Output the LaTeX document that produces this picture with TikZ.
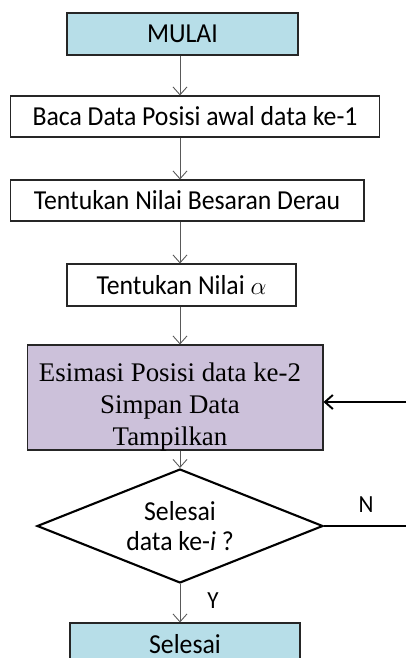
\documentclass[tikz,border=0pt]{standalone}
\usepackage{fontspec}
\setmainfont{Carlito}[FakeStretch=0.94]
\newfontfamily\timesfont{Liberation Serif}
\usetikzlibrary{shapes.geometric, arrows.meta}

\definecolor{startblue}{HTML}{B7DEE8}
\definecolor{procpurple}{HTML}{CCC1DA}

\begin{document}
\begin{tikzpicture}[x=0.02cm, y=-0.02cm,
    every node/.style={draw=black!85, line width=0.6pt, inner sep=0pt, font=\fontsize{15.6}{18.5}\selectfont},
    flow/.style={draw=black!65, line width=0.5pt, -{Straight Barb[length=4.5pt, width=8pt]}}]
    \clip (0, 0) rectangle (406, 658);

    \node[fill=startblue, minimum width=4.62cm, minimum height=0.84cm] (mulai) at (182.5, 34) {MULAI};
    \node[minimum width=7.4cm, minimum height=0.82cm] (baca) at (195, 116.5) {Baca Data Posisi awal data ke-1};
    \node[minimum width=7.08cm, minimum height=0.82cm] (derau) at (187, 200.5) {Tentukan Nilai Besaran Derau};
    \node[minimum width=4.58cm, minimum height=0.84cm] (alfa) at (181.5, 285) {Tentukan Nilai $\alpha$};
    \node[fill=procpurple, minimum width=5.92cm, minimum height=2.1cm] (estimasi) at (175, 397.5) {};
    \node[draw=none, align=center, font=\timesfont\fontsize{15.3}{18.2}\selectfont] (estimasiteks) at (170, 407)
          {Esimasi Posisi data ke-2\\Simpan Data\\Tampilkan};
    \node[diamond, aspect=2.5, draw=black, line width=1.2pt, minimum width=5.72cm, minimum height=2.28cm,
          align=center, font=\fontsize{15.6}{17}\selectfont] (cek) at (180, 526) {Selesai\\data ke-\textit{i} ?};
    \node[fill=startblue, minimum width=4.6cm, minimum height=0.92cm] (selesai) at (185, 646) {};
    \node[draw=none] (selesaiteks) at (185, 644) {Selesai};

    \coordinate (balik) at (406, 402);
    \coordinate (lanjut) at (406, 526);

    \draw[flow] (mulai.south -| 180, 0) -- (baca.north -| 180, 0);
    \draw[flow] (baca.south -| 180, 0) -- (derau.north -| 180, 0);
    \draw[flow] (derau.south -| 180, 0) -- (alfa.north -| 180, 0);
    \draw[flow] (alfa.south -| 180, 0) -- (estimasi.north -| 180, 0);
    \draw[flow] (estimasi.south -| 180, 0) -- (cek.north);
    \draw[flow] (cek.south) -- (selesai.north -| 180, 0);
    \draw[line width=1.1pt] (cek.east) -- (lanjut);
    \draw[line width=1.1pt, -{Straight Barb[length=4.5pt, width=8pt]}] (balik) -- (balik -| estimasi.east);

    \node[draw=none, font=\fontsize{14}{16}\selectfont] (labN) at (366, 505) {N};
    \node[draw=none, font=\fontsize{14}{16}\selectfont] (labY) at (213, 601) {Y};
\end{tikzpicture}
\end{document}
